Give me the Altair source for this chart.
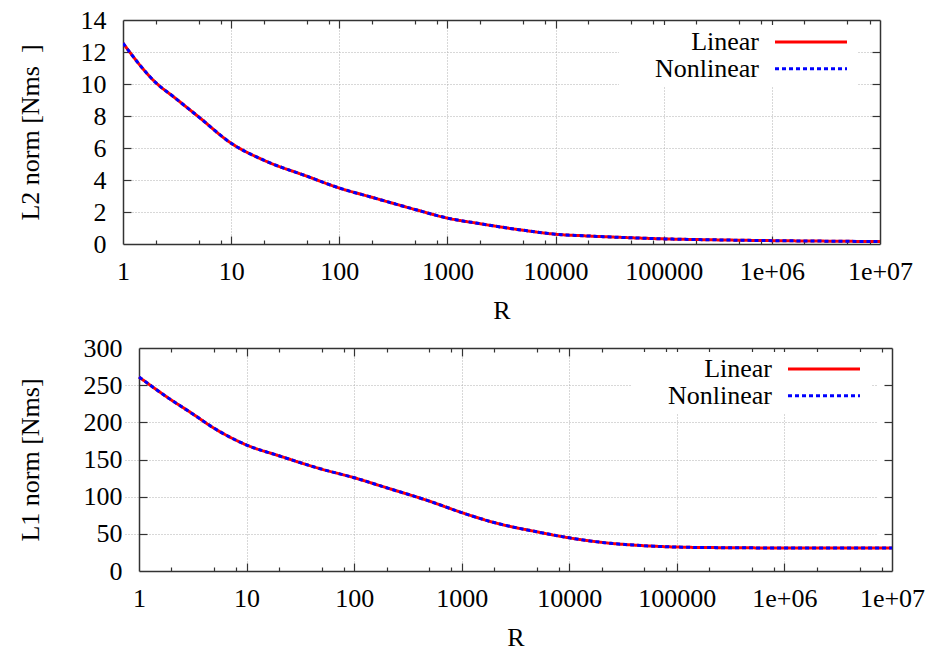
import altair as alt
import pandas as pd

# ---------------- data ----------------
R_VALUES = [1, 2, 3, 5, 10, 20, 50, 100, 200, 500, 1000, 2000, 5000,
            10000, 20000, 50000, 100000, 300000, 1000000, 3000000, 10000000]

L2_LINEAR = [12.55, 10.1, 9.15, 7.95, 6.3, 5.24, 4.24, 3.5, 2.92, 2.16, 1.62, 1.27, 0.86,
             0.61, 0.5, 0.39, 0.32, 0.26, 0.21, 0.18, 0.15]
L2_NONLINEAR = [12.55, 10.1, 9.15, 7.95, 6.3, 5.24, 4.24, 3.5, 2.92, 2.16, 1.62, 1.27, 0.86,
                0.61, 0.5, 0.39, 0.32, 0.26, 0.21, 0.18, 0.15]

L1_LINEAR = [261, 230, 213.5, 192, 169.5, 155, 137, 125.5, 112, 94, 78.6, 65.2, 52.7,
             44.6, 38.5, 34, 32.2, 31.3, 31.0, 30.9, 30.9]
L1_NONLINEAR = [261, 230, 213.5, 192, 169.5, 155, 137, 125.5, 112, 94, 78.6, 65.2, 52.7,
                44.6, 38.5, 34, 32.2, 31.3, 31.0, 30.9, 30.9]

SERIES = ["Linear", "Nonlinear"]
COLORS = ["#ff0000", "#0000ff"]
DASHES = [[1, 0], [4, 3]]

XTICK_VALUES = [1, 10, 100, 1000, 10000, 100000, 1000000, 10000000]
XTICK_LABELS = ["1", "10", "100", "1000", "10000", "100000", "1e+06", "1e+07"]
XMINOR = [2, 5, 8, 20, 50, 80, 200, 500, 800, 2000, 5000, 8000,
          20000, 50000, 80000, 200000, 500000, 800000, 2000000, 5000000, 8000000]

L2_YTICKS = [0, 2, 4, 6, 8, 10, 12, 14]
L1_YTICKS = [0, 50, 100, 150, 200, 250, 300]

TOP_YTITLE = "L2 norm [Nms\u00a0\u00a0]"
BOT_YTITLE = "L1 norm [Nms]"
XTITLE = "R"

FONT = "Liberation Serif"
FS = 26
FRAME = "#333333"
GRID = "#b0b0b0"

# legend sample: a stroke drawn to the right of the (right-aligned) label
LEGEND_SYMBOL = "M12.087,0L18.348,0"


def label_expr(values, labels):
    expr = "''"
    for v, l in reversed(list(zip(values, labels))):
        expr = f"datum.value == {v} ? '{l}' : ({expr})"
    return expr


def panel(lin, non, yticks, ytitle, W, H, ox, yext, lx, ly):
    """W, H: plot frame size; ox: left inset of the frame inside the cell."""
    n = len(R_VALUES)
    df = pd.DataFrame({
        "R": R_VALUES * 2,
        "v": list(lin) + list(non),
        "series": [SERIES[0]] * n + [SERIES[1]] * n,
    })
    xs = alt.Scale(type="log", domain=[XTICK_VALUES[0], XTICK_VALUES[-1]], nice=False,
                   range=[ox, ox + W])
    ys = alt.Scale(domain=[yticks[0], yticks[-1]], nice=False, zero=True)
    inner_x = XTICK_VALUES[1:-1]
    inner_y = yticks[1:-1]

    leg = alt.Legend(
        orient="none", legendX=lx, legendY=ly, title=None,
        symbolType=LEGEND_SYMBOL, symbolSize=529, symbolStrokeWidth=3,
        symbolOffset=0, labelOffset=110, labelAlign="right",
        labelFont=FONT, labelFontSize=FS, labelColor="black", labelLimit=0,
        fillColor="white", padding=4, rowPadding=0.7,
    )
    color = alt.Color("series:N", scale=alt.Scale(domain=SERIES, range=COLORS), legend=leg)
    dash = alt.StrokeDash("series:N", scale=alt.Scale(domain=SERIES, range=DASHES), legend=leg)

    frame = dict(domain=True, domainColor=FRAME, domainWidth=1.5)
    x_lab = alt.Axis(values=XTICK_VALUES, labelExpr=label_expr(XTICK_VALUES, XTICK_LABELS),
                     ticks=False, tickSize=0, grid=False, labelFlush=False,
                     labelOverlap=False, labelPadding=14, title=XTITLE,
                     minExtent=41, maxExtent=41, titlePadding=12, **frame)
    y_lab = alt.Axis(values=yticks, ticks=False, tickSize=0, grid=False, offset=-ox,
                     labelFlush=False, labelOverlap=False, labelPadding=17, title=ytitle,
                     minExtent=yext, maxExtent=yext, titlePadding=0, **frame)

    base = alt.Chart(df)

    def lines(name, xa, ya):
        return base.transform_filter(alt.datum.series == name).mark_line(
            strokeWidth=3, interpolate="monotone", clip=True
        ).encode(
            x=alt.X("R:Q", scale=xs, axis=xa),
            y=alt.Y("v:Q", scale=ys, axis=ya),
            color=color, strokeDash=dash,
        )

    def ticks(xorient, xvals, xsize, yorient=None, yoffset=0, grid=False, domain=False):
        common = dict(tickWidth=1.2, tickColor=FRAME, labels=False, title=None, grid=grid,
                      gridColor=GRID, gridDash=[1, 2], gridWidth=1,
                      domain=domain, domainColor=FRAME, domainWidth=1.5)
        xa = alt.Axis(orient=xorient, offset=-H, values=xvals, tickSize=xsize, **common)
        if yorient is None:
            ya = None
        else:
            ya = alt.Axis(orient=yorient, offset=yoffset, values=inner_y, tickSize=8, **common)
        return base.mark_point(opacity=0).encode(
            x=alt.X("R:Q", scale=xs, axis=xa),
            y=alt.Y("v:Q", scale=ys, axis=ya),
        )

    layers = [
        # ticks pointing up from the bottom edge / right from the left edge, plus grid
        ticks("top", inner_x, 8, "right", -W, grid=True),
        # ticks pointing down from the top edge / left from the right edge, plus frame
        ticks("bottom", inner_x, 8, "left", -(ox + W), domain=True),
        ticks("top", XMINOR, 4),
        ticks("bottom", XMINOR, 4),
        lines(SERIES[0], x_lab, y_lab),
        lines(SERIES[1], None, None),
    ]
    return alt.layer(*layers).resolve_axis(x="independent", y="independent").properties(
        width=ox + W, height=H
    )


top = panel(L2_LINEAR, L2_NONLINEAR, L2_YTICKS, TOP_YTITLE, 757, 224, 0, 80, 496, 5)
bottom = panel(L1_LINEAR, L1_NONLINEAR, L1_YTICKS, BOT_YTITLE, 753, 223, 16, 96, 509, 4)

chart = alt.vconcat(top, bottom, spacing=10).resolve_scale(
    color="independent", strokeDash="independent"
).properties(
    padding={"left": 16, "top": 6, "right": 5, "bottom": 0},
    background="white",
).configure_view(
    stroke="transparent"
).configure_axis(
    labelFont=FONT, labelFontSize=FS, labelColor="black",
    titleFont=FONT, titleFontSize=FS, titleFontWeight="normal", titleColor="black",
)

chart.save("out.html", embed_options={"renderer": "svg", "actions": False})
